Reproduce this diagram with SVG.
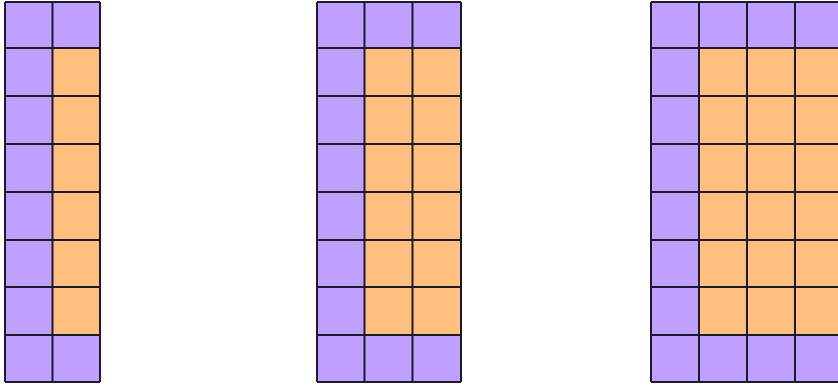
<svg xmlns="http://www.w3.org/2000/svg" width="838" height="385" viewBox="0 0 838 385">
<style>
.p{fill:#bf9fff}
.o{fill:#ffbf7f}
.g{fill:none;stroke:#1c1a2a;stroke-width:2}
</style>
<rect width="838" height="385" fill="#ffffff"/>
<g id="grid1">
<rect class="p" x="5" y="2" width="95" height="380"/>
<rect class="o" x="52.5" y="48" width="47.5" height="287"/>
<path class="g" d="M5 2V382M52.5 2V382M100 2V382M5 2H100M5 48H100M5 96H100M5 144H100M5 192H100M5 240H100M5 287H100M5 335H100M5 382H100"/>
</g>
<g id="grid2">
<rect class="p" x="317" y="2" width="144" height="380"/>
<rect class="o" x="364.5" y="48" width="96.5" height="287"/>
<path class="g" d="M317 2V382M364.5 2V382M412.5 2V382M461 2V382M317 2H461M317 48H461M317 96H461M317 144H461M317 192H461M317 240H461M317 287H461M317 335H461M317 382H461"/>
</g>
<g id="grid3">
<rect class="p" x="651" y="2" width="192" height="380"/>
<rect class="o" x="699" y="48" width="144" height="287"/>
<path class="g" d="M651 2V382M699 2V382M747 2V382M795 2V382M843 2V382M651 2H843M651 48H843M651 96H843M651 144H843M651 192H843M651 240H843M651 287H843M651 335H843M651 382H843"/>
</g>
</svg>
